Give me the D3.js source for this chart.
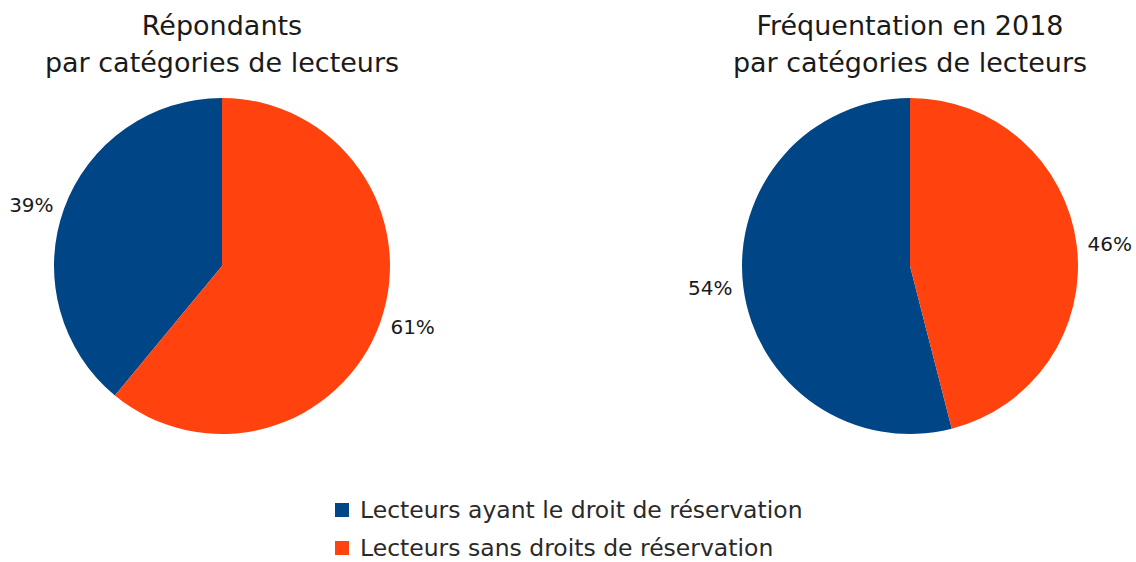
<!DOCTYPE html>
<html>
<head>
<meta charset="utf-8">
<style>
  body { margin: 0; background: #fff; }
  text { font-family: "DejaVu Sans", sans-serif; fill: #1a1a1a; }
  .title { font-size: 27px; }
  .pct { font-size: 20px; }
  .legend text { font-size: 23.5px; fill: #2a2a2a; }
</style>
</head>
<body>
<svg width="1136" height="562"></svg>
<script src="https://d3js.org/d3.v7.min.js"></script>
<script>

// categories and values
var categories = ["Lecteurs ayant le droit de réservation", "Lecteurs sans droits de réservation"];
var colors = ["#004586", "#ff420e"];
var titles = [
  ["Répondants", "par catégories de lecteurs"],
  ["Fréquentation en 2018", "par catégories de lecteurs"]
];
var repondants = [39, 61];
var frequentation = [54, 46];

var svg = d3.select("svg");
var radius = 168;
var centers = [[222, 266], [910, 266]];
var datasets = [repondants, frequentation];

// first series runs counterclockwise from 12 o'clock, second one clockwise
var pie = d3.pie().sort(null).value(function(d) { return d; })
    .startAngle(0).endAngle(-2 * Math.PI);

var arc = d3.arc().innerRadius(0).outerRadius(radius);
var labelArc = d3.arc().innerRadius(179).outerRadius(179);

function midAngle(d) { return (d.startAngle + d.endAngle) / 2; }

datasets.forEach(function(values, k) {
  var g = svg.append("g")
      .attr("transform", "translate(" + centers[k][0] + "," + centers[k][1] + ")");

  g.selectAll("path")
    .data(pie(values))
    .enter().append("path")
      .attr("d", arc)
      .attr("fill", function(d, i) { return colors[i]; });

  g.selectAll("text.pct")
    .data(pie(values))
    .enter().append("text")
      .attr("class", "pct")
      .attr("text-anchor", function(d) { return Math.sin(midAngle(d)) < 0 ? "end" : "start"; })
      .attr("dy", "0.35em")
      .attr("transform", function(d) { return "translate(" + labelArc.centroid(d) + ")"; })
      .text(function(d) { return d.data + "%"; });

  svg.append("text")
      .attr("class", "title")
      .attr("text-anchor", "middle")
      .attr("x", centers[k][0])
      .attr("y", 35)
      .text(titles[k][0]);
  svg.append("text")
      .attr("class", "title")
      .attr("text-anchor", "middle")
      .attr("x", centers[k][0])
      .attr("y", 72)
      .text(titles[k][1]);
});

var legend = svg.append("g").attr("class", "legend");
var items = legend.selectAll("g")
  .data(categories)
  .enter().append("g")
    .attr("transform", function(d, i) { return "translate(335," + (503 + i * 38) + ")"; });

items.append("rect")
    .attr("width", 14).attr("height", 14)
    .attr("fill", function(d, i) { return colors[i]; });

items.append("text")
    .attr("x", 25)
    .attr("y", 15)
    .text(function(d) { return d; });

</script>
</body>
</html>
